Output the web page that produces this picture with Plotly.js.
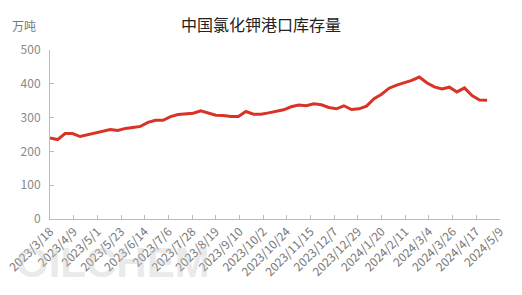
<!DOCTYPE html>
<html>
<head>
<meta charset="utf-8">
<script src="https://cdn.plot.ly/plotly-3.0.1.min.js"></script>
<style>
html,body{margin:0;padding:0;background:#fff;}
#chart{width:522px;height:295px;}
</style>
</head>
<body>
<div id="chart"></div>
<script>
const chartTitle = "中国氯化钾港口库存量";
const unitLabel = "万吨";
const dates = [
  "2023-03-18","2023-03-25","2023-04-01","2023-04-08","2023-04-15","2023-04-22","2023-04-29",
  "2023-05-06","2023-05-13","2023-05-20","2023-05-27","2023-06-03","2023-06-10","2023-06-17",
  "2023-06-24","2023-07-01","2023-07-08","2023-07-15","2023-07-22","2023-07-29","2023-08-05",
  "2023-08-12","2023-08-19","2023-08-26","2023-09-02","2023-09-09","2023-09-16","2023-09-23",
  "2023-09-30","2023-10-07","2023-10-14","2023-10-21","2023-10-28","2023-11-04","2023-11-11",
  "2023-11-18","2023-11-25","2023-12-02","2023-12-09","2023-12-16","2023-12-23","2023-12-30",
  "2024-01-06","2024-01-13","2024-01-20","2024-01-27","2024-02-03","2024-02-10","2024-02-17",
  "2024-02-24","2024-03-02","2024-03-09","2024-03-16","2024-03-23","2024-03-30","2024-04-06",
  "2024-04-13","2024-04-20","2024-04-27"
];
const inventory = [
  240,235,253,253,244,249,256,260,265,262,268,271,274,286,292,
  292,303,309,310,313,320,314,307,306,303,303,318,310,310,314,
  319,323,332,337,335,341,338,330,326,335,324,326,334,356,369,
  387,396,403,410,420,403,391,385,390,376,388,365,352,351
];
const tickLabels = [
  "2023/3/18","2023/4/9","2023/5/1","2023/5/23","2023/6/14","2023/7/6","2023/7/28",
  "2023/8/19","2023/9/10","2023/10/2","2023/10/24","2023/11/15","2023/12/7","2023/12/29",
  "2024/1/20","2024/2/11","2024/3/4","2024/3/26","2024/4/17","2024/5/9"
];
const yTicks = [0,100,200,300,400,500];
const watermark = "OILCHEM";

function toIso(s){
  const p = s.split("/");
  return p[0] + "-" + String(p[1]).padStart(2,"0") + "-" + String(p[2]).padStart(2,"0");
}
const tickVals = tickLabels.map(toIso);

const font = "'Microsoft YaHei','Noto Sans CJK SC','Noto Sans',sans-serif";

const trace = {
  x: dates,
  y: inventory,
  type: "scatter",
  mode: "lines",
  line: {color: "#d93328", width: 3},
  hoverinfo: "skip"
};

const layout = {
  width: 522,
  height: 295,
  margin: {l: 50, r: 22, t: 50, b: 76},
  paper_bgcolor: "#fff",
  plot_bgcolor: "#fff",
  showlegend: false,
  font: {family: font, color: "#666", size: 12},
  title: {
    text: chartTitle,
    x: 0.5, xref: "container", xanchor: "center",
    y: 21, yref: "container", yanchor: "middle",
    font: {family: font, size: 16, color: "#222"}
  },
  xaxis: {
    type: "date",
    range: [tickVals[0], tickVals[tickVals.length - 1]],
    tickmode: "array",
    tickvals: tickVals,
    ticktext: tickLabels,
    tickangle: -45,
    ticks: "inside",
    ticklen: 4,
    tickcolor: "#bbb",
    showline: true,
    linecolor: "#bbb",
    linewidth: 1,
    showgrid: false,
    zeroline: false,
    tickfont: {family: font, size: 12, color: "#777"},
    fixedrange: true
  },
  yaxis: {
    range: [0, 500],
    tickmode: "array",
    tickvals: yTicks,
    ticks: "inside",
    ticklen: 4,
    tickcolor: "#bbb",
    showline: true,
    linecolor: "#bbb",
    linewidth: 1,
    showgrid: false,
    zeroline: false,
    tickfont: {family: font, size: 12, color: "#888"},
    ticklabelstandoff: 6,
    fixedrange: true
  },
  annotations: [
    {
      text: unitLabel,
      xref: "paper", yref: "paper",
      x: 0, y: 1, xshift: -26, yshift: 25,
      xanchor: "center", yanchor: "middle",
      showarrow: false,
      font: {family: font, size: 12, color: "#777"}
    },
    {
      text: "<b>" + watermark + "</b>",
      xref: "paper", yref: "paper",
      x: 0, y: 0, xshift: 63, yshift: -43,
      xanchor: "center", yanchor: "middle",
      showarrow: false,
      font: {family: "'Liberation Sans',Arial,sans-serif", size: 42, color: "rgba(200,200,200,0.4)"}
    }
  ]
};

Plotly.newPlot("chart", [trace], layout, {displayModeBar: false, staticPlot: true});
</script>
</body>
</html>
